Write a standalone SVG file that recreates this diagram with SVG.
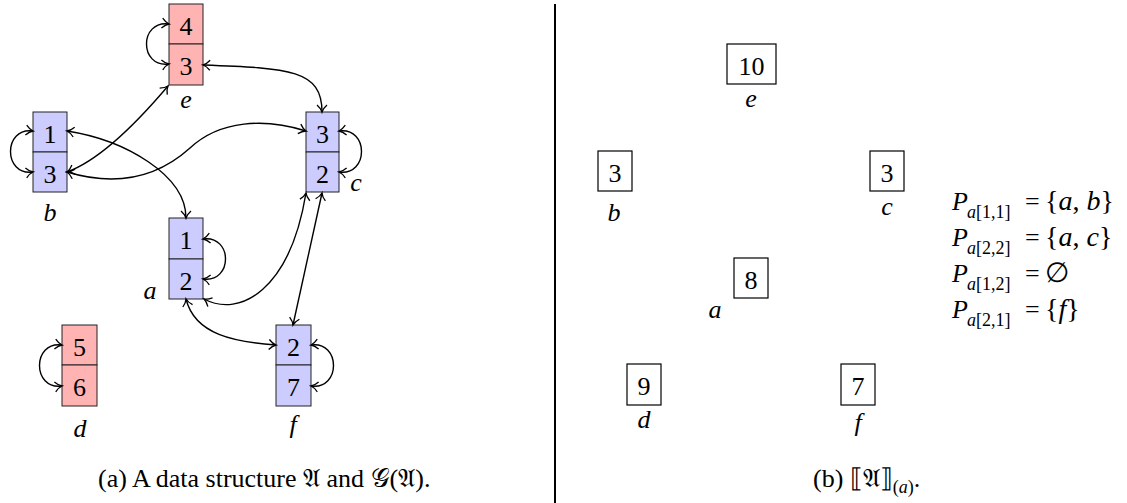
<svg xmlns="http://www.w3.org/2000/svg" width="1127" height="503" viewBox="0 0 1127 503">
<style>
text{font-family:'Liberation Serif','Times New Roman',serif;fill:#000}
.num{font-size:26px;text-anchor:middle}
.lbl{font-size:26px;font-style:italic;text-anchor:middle}
.red{fill:#ffb3b3;stroke:#222;stroke-width:1}
.blue{fill:#ccccff;stroke:#222;stroke-width:1}
.wbox{fill:#fff;stroke:#000;stroke-width:1.2}
.edge{fill:none;stroke:#000;stroke-width:1.4;marker-start:url(#ah);marker-end:url(#ah)}
.eq{font-size:26px}
.set{font-size:28px}
.it{font-style:italic}
.sub{font-size:18px}
.cap{font-size:26px}
</style>
<defs>
<marker id="ah" viewBox="-9 -7 11 14" refX="0" refY="0" markerWidth="11" markerHeight="14" markerUnits="userSpaceOnUse" orient="auto-start-reverse">
<path d="M-7,-5 C-4.5,-2.2 -1.8,-0.5 0,0 C-1.8,0.5 -4.5,2.2 -7,5" fill="none" stroke="#000" stroke-width="1.3"/>
</marker>
</defs>

<g id="node-e">
<rect class="red" x="169" y="4" width="34" height="40"/>
<rect class="red" x="169" y="44" width="34" height="41"/>
<text class="num" x="186" y="35">4</text>
<text class="num" x="186" y="75">3</text>
<text class="lbl" x="186" y="108">e</text>
</g>
<g id="node-b">
<rect class="blue" x="33" y="112" width="34" height="40"/>
<rect class="blue" x="33" y="152" width="34" height="40"/>
<text class="num" x="50" y="143">1</text>
<text class="num" x="50" y="183">3</text>
<text class="lbl" x="50" y="221">b</text>
</g>
<g id="node-c">
<rect class="blue" x="306" y="112" width="33" height="40"/>
<rect class="blue" x="306" y="152" width="33" height="40"/>
<text class="num" x="322.5" y="143">3</text>
<text class="num" x="322.5" y="183">2</text>
<text class="lbl" x="356" y="191">c</text>
</g>
<g id="node-a">
<rect class="blue" x="169" y="218" width="34" height="41"/>
<rect class="blue" x="169" y="259" width="34" height="40"/>
<text class="num" x="186" y="249">1</text>
<text class="num" x="186" y="290">2</text>
<text class="lbl" x="150" y="299">a</text>
</g>
<g id="node-f">
<rect class="blue" x="276" y="325" width="35" height="40"/>
<rect class="blue" x="276" y="365" width="35" height="41"/>
<text class="num" x="293.5" y="356">2</text>
<text class="num" x="293.5" y="396">7</text>
<text class="lbl" x="293" y="433">f</text>
</g>
<g id="node-d">
<rect class="red" x="62" y="325" width="35" height="40"/>
<rect class="red" x="62" y="365" width="35" height="41"/>
<text class="num" x="79.5" y="356">5</text>
<text class="num" x="79.5" y="396">6</text>
<text class="lbl" x="80" y="437">d</text>
</g>

<g id="connectors">
<path class="edge" d="M169,24 C139,20 139,68 169,64"/>
<path class="edge" d="M33,131 C3,127 3,176 33,172"/>
<path class="edge" d="M62,345 C32,341 32,390 62,386"/>
<path class="edge" d="M339,131 C369,127 369,176 339,172"/>
<path class="edge" d="M203,239 C233,235 233,283 203,279"/>
<path class="edge" d="M311,345 C341,341 341,390 311,386"/>
<path class="edge" d="M203,65 C290,68 322,70 322,112"/>
<path class="edge" d="M67,172 C100,160 135,125 168,86"/>
<path class="edge" d="M67,131 C125,140 186,175 186,218"/>
<path class="edge" d="M67,172 C120,188 160,175 190,148 C220,120 265,118 306,131"/>
<path class="edge" d="M204,299 C240,318 290,290 306,193"/>
<path class="edge" d="M322,193 L293,325"/>
<path class="edge" d="M186,299 C195,335 235,342 276,345"/>
</g>

<line x1="555" y1="4" x2="555" y2="503" stroke="#000" stroke-width="2"/>

<g id="r-node-e">
<rect class="wbox" x="727" y="44" width="49" height="40"/>
<text class="num" x="751.5" y="75">10</text>
<text class="lbl" x="751" y="107">e</text>
</g>
<g id="r-node-b">
<rect class="wbox" x="598" y="151" width="34" height="40"/>
<text class="num" x="615" y="182">3</text>
<text class="lbl" x="614" y="221">b</text>
</g>
<g id="r-node-c">
<rect class="wbox" x="870" y="151" width="34" height="40"/>
<text class="num" x="887" y="182">3</text>
<text class="lbl" x="887" y="215">c</text>
</g>
<g id="r-node-a">
<rect class="wbox" x="734" y="258" width="34" height="40"/>
<text class="num" x="751" y="289">8</text>
<text class="lbl" x="715" y="318">a</text>
</g>
<g id="r-node-d">
<rect class="wbox" x="627" y="364" width="34" height="41"/>
<text class="num" x="644" y="395">9</text>
<text class="lbl" x="644" y="428">d</text>
</g>
<g id="r-node-f">
<rect class="wbox" x="841" y="364" width="34" height="41"/>
<text class="num" x="858" y="395">7</text>
<text class="lbl" x="858" y="431">f</text>
</g>

<g id="equations">
<text class="eq" y="210"><tspan x="952" class="it">P</tspan><tspan class="sub" x="967" dy="8"><tspan class="it">a</tspan>[1,1]</tspan><tspan x="1025" dy="-8">=</tspan><tspan class="set" x="1045">{<tspan class="it">a</tspan>, <tspan class="it">b</tspan>}</tspan></text>
<text class="eq" y="246"><tspan x="952" class="it">P</tspan><tspan class="sub" x="967" dy="8"><tspan class="it">a</tspan>[2,2]</tspan><tspan x="1025" dy="-8">=</tspan><tspan class="set" x="1045">{<tspan class="it">a</tspan>, <tspan class="it">c</tspan>}</tspan></text>
<text class="eq" y="282"><tspan x="952" class="it">P</tspan><tspan class="sub" x="967" dy="8"><tspan class="it">a</tspan>[1,2]</tspan><tspan x="1025" dy="-8">=</tspan><tspan class="set" x="1045">∅</tspan></text>
<text class="eq" y="318"><tspan x="952" class="it">P</tspan><tspan class="sub" x="967" dy="8"><tspan class="it">a</tspan>[2,1]</tspan><tspan x="1025" dy="-8">=</tspan><tspan class="set" x="1045">{<tspan class="it">f</tspan>}</tspan></text>
</g>

<text class="cap" x="98" y="487">(a) A data structure 𝔄 and 𝒢(𝔄).</text>
<text class="cap" x="813" y="487">(b) ⟦𝔄⟧<tspan class="sub" dy="6">(<tspan class="it">a</tspan>)</tspan><tspan dy="-6">.</tspan></text>
</svg>
